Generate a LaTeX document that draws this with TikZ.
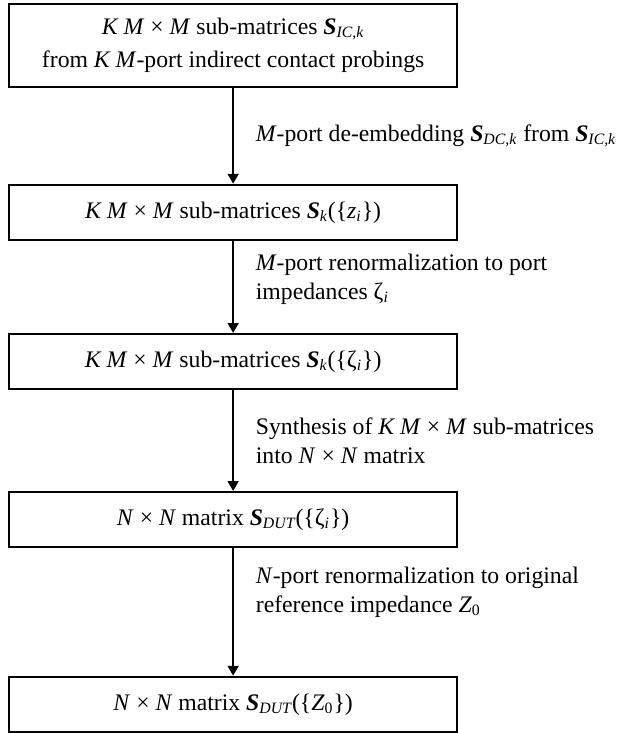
\documentclass[tikz,border=0pt]{standalone}
\usepackage{amsmath}
\usepackage{fontspec}
\setmainfont{Liberation Serif}
\usetikzlibrary{arrows.meta,positioning,calc}

\newcommand{\Smat}{\textbf{\textit{S}}}
\newcommand{\sub}[1]{$_{\textit{#1}}$}
\newcommand{\subup}[1]{$_{\textup{#1}}$}
\newcommand{\KMM}{\textit{K M}~×~\textit{M}}
\newcommand{\NN}{\textit{N}~×~\textit{N}}

\begin{document}
\begin{tikzpicture}[
  font=\fontsize{12}{14.5}\selectfont,
  stage/.style={draw, line width=1pt, minimum width=227pt, minimum height=28pt,
                align=center, inner sep=0pt},
  edge/.style={-{Triangle[length=5pt, width=5.5pt]}, line width=1pt},
  lbl/.style={anchor=west, align=left, inner sep=0pt, xshift=11pt},
]

\node[stage, minimum height=42pt, font=\fontsize{12}{17}\selectfont] (ic) at (0,0)
  {\KMM{} sub-matrices \Smat\sub{IC,k}\\from \textit{K M}-port indirect contact probings};
\node[stage, below=48.5pt of ic] (zi) {\KMM{} sub-matrices \Smat\sub{k}(\{\textit{z}\sub{i}\})};
\node[stage, below=46.5pt of zi] (zeta) {\KMM{} sub-matrices \Smat\sub{k}(\{ζ\sub{i}\})};
\node[stage, below=51pt of zeta] (dut) {\NN{} matrix \Smat\sub{DUT}(\{ζ\sub{i}\})};
\node[stage, below=64.5pt of dut] (ref) {\NN{} matrix \Smat\sub{DUT}(\{\textit{Z}\subup{0}\})};

\draw[edge] (ic) -- node[lbl] {\textit{M}-port de-embedding \Smat\sub{DC,k} from \Smat\sub{IC,k}} (zi);
\draw[edge] (zi) -- node[lbl, yshift=4pt] {\textit{M}-port renormalization to port\\impedances ζ\sub{i}} (zeta);
\draw[edge] (zeta) -- node[lbl] {Synthesis of \KMM{} sub-matrices\\into \NN{} matrix} (dut);
\draw[edge] (dut) -- node[lbl, yshift=10pt] {\textit{N}-port renormalization to original\\reference impedance \textit{Z}\subup{0}} (ref);

\useasboundingbox ($(ic.north west)+(-4pt,1.5pt)$) rectangle ++(309.5pt,-366.5pt);
\end{tikzpicture}
\end{document}
